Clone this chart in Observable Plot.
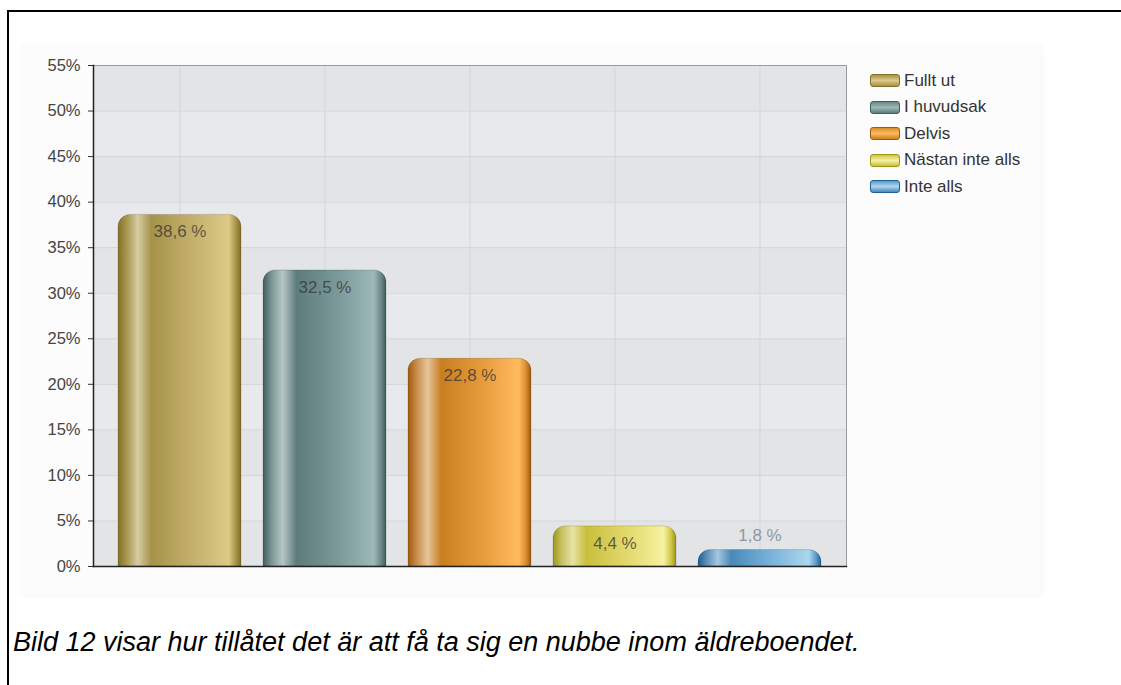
<!DOCTYPE html>
<html><head><meta charset="utf-8">
<script src="https://cdn.jsdelivr.net/npm/d3@7"></script>
<script src="https://cdn.jsdelivr.net/npm/@observablehq/plot@0.6"></script>
<style>
body{margin:0;background:#fff;font-family:"Liberation Sans",Arial,sans-serif;}
#frame{position:absolute;left:7px;top:10px;width:1200px;height:800px;border-left:2px solid #000;border-top:2px solid #000;}
#panel{position:absolute;left:20px;top:44px;width:1020px;height:550px;background:#fcfcfc;box-shadow:2px 2px 6px rgba(0,0,0,0.04);}
#chart{position:absolute;left:0;top:0;}
#legend{position:absolute;left:870px;top:67.5px;font-size:17px;color:#333;}
.row{height:26.5px;display:flex;align-items:center;white-space:nowrap;}
.sw{display:inline-block;width:28px;height:11px;border-radius:3px;margin-right:4px;}
#caption{position:absolute;left:13px;top:626.5px;font-size:27px;font-style:italic;color:#000;white-space:nowrap;}
</style></head>
<body>
<div id="frame"></div>
<div id="panel"></div>
<div id="chart"></div>
<div id="legend"></div>
<div id="caption">Bild 12 visar hur tillåtet det är att få ta sig en nubbe inom äldreboendet.</div>
<script>
const categories = ["Fullt ut", "I huvudsak", "Delvis", "Nästan inte alls", "Inte alls"];
const values = [38.6, 32.5, 22.8, 4.4, 1.8];
const yTicks = [0,5,10,15,20,25,30,35,40,45,50,55];
const gradients = [
  [[0,"#847129"],[0.07,"#a8964e"],[0.16,"#d6cca2"],[0.27,"#a6934a"],[0.6,"#c3af6b"],[0.9,"#dcca86"],[0.96,"#a89248"],[1,"#7f6c26"]],
  [[0,"#3f5e5f"],[0.07,"#7d9595"],[0.16,"#b7c6c6"],[0.27,"#5f7c7d"],[0.6,"#7b9899"],[0.9,"#9cb8b9"],[0.96,"#6b8787"],[1,"#3e5b5c"]],
  [[0,"#a05a0c"],[0.07,"#c98d4a"],[0.16,"#e6c59b"],[0.27,"#c97e20"],[0.6,"#e59a3c"],[0.9,"#ffbb5e"],[0.96,"#d98c2e"],[1,"#9c570a"]],
  [[0,"#9f9714"],[0.07,"#c7c163"],[0.16,"#e6e3a6"],[0.27,"#c9bf3e"],[0.6,"#e2d96c"],[0.9,"#f6f1a2"],[0.96,"#cfc748"],[1,"#9a9212"]],
  [[0,"#1f5f92"],[0.07,"#5a8fb8"],[0.16,"#a4c6de"],[0.27,"#4a89ba"],[0.6,"#7ab3da"],[0.9,"#acd6ef"],[0.96,"#5d9bc8"],[1,"#1f6195"]]
];
const data = categories.map((c, i) => ({cat: c, value: values[i], idx: i}));
const fmt = v => v.toFixed(1).replace(".", ",") + " %";

const stripes = yTicks.slice(0, -1).map((t, i) => ({y1: t, y2: yTicks[i + 1], odd: i % 2}));

const plot = Plot.plot({
  width: 1121,
  height: 600,
  marginLeft: 93,
  marginRight: 275,
  marginTop: 65,
  marginBottom: 34,
  style: {background: "transparent", fontFamily: "'Liberation Sans', Arial, sans-serif", fontSize: "17px", color: "#444"},
  x: {domain: categories, paddingInner: 0.155, paddingOuter: 0.157, axis: null},
  y: {domain: [0, 55], ticks: yTicks, tickFormat: d => d + "%", label: null},
  marks: [
    Plot.rectY(stripes, {y1: "y1", y2: "y2", fill: d => d.odd ? "#e7e9ec" : "#e3e4e6"}),
    Plot.gridY(yTicks, {stroke: "#d4d5d7", strokeOpacity: 1}),
    Plot.gridX(categories, {stroke: "#d4d5d7", strokeOpacity: 1}),
    Plot.frame({stroke: "#9a9a9a"}),
    Plot.axisY(yTicks, {tickSize: 5, tickPadding: 8, stroke: "#333", fill: "#444", fontSize: 16.5, tickFormat: d => d + "%", label: null}),
    ...data.map(d => Plot.barY([d], {x: "cat", y: "value", fill: `url(#grad${d.idx})`, ry1: 12, stroke: "rgba(0,0,0,0.15)", strokeWidth: 1})),
    Plot.frame({anchor: "left", stroke: "#222", strokeWidth: 1.5}),
    Plot.frame({anchor: "bottom", stroke: "#222", strokeWidth: 1.5}),
    Plot.text(data.filter(d => d.value >= 4), {x: "cat", y: "value", text: d => fmt(d.value), dy: 17, fill: "#333", fillOpacity: 0.75, fontSize: 17}),
    Plot.text(data.filter(d => d.value < 4), {x: "cat", y: "value", text: d => fmt(d.value), dy: -15, fill: "#8e99a3", fontSize: 17})
  ]
});

const ns = "http://www.w3.org/2000/svg";
const defs = document.createElementNS(ns, "defs");
gradients.forEach((stops, i) => {
  const g = document.createElementNS(ns, "linearGradient");
  g.setAttribute("id", "grad" + i);
  g.setAttribute("x1", "0"); g.setAttribute("x2", "1"); g.setAttribute("y1", "0"); g.setAttribute("y2", "0");
  stops.forEach(([o, c]) => {
    const s = document.createElementNS(ns, "stop");
    s.setAttribute("offset", o); s.setAttribute("stop-color", c);
    g.appendChild(s);
  });
  defs.appendChild(g);
});
plot.insertBefore(defs, plot.firstChild);
document.getElementById("chart").appendChild(plot);

const legend = document.getElementById("legend");
categories.forEach((c, i) => {
  const row = document.createElement("div");
  row.className = "row";
  const sw = document.createElement("span");
  sw.className = "sw";
  const st = gradients[i];
  sw.style.background = `linear-gradient(to bottom, ${st[6][1]}, ${st[5][1]} 50%, ${st[3][1]})`;
  sw.style.border = `1px solid ${st[0][1]}`;
  const t = document.createElement("span");
  t.textContent = c;
  row.appendChild(sw); row.appendChild(t);
  legend.appendChild(row);
});
</script>
</body></html>
